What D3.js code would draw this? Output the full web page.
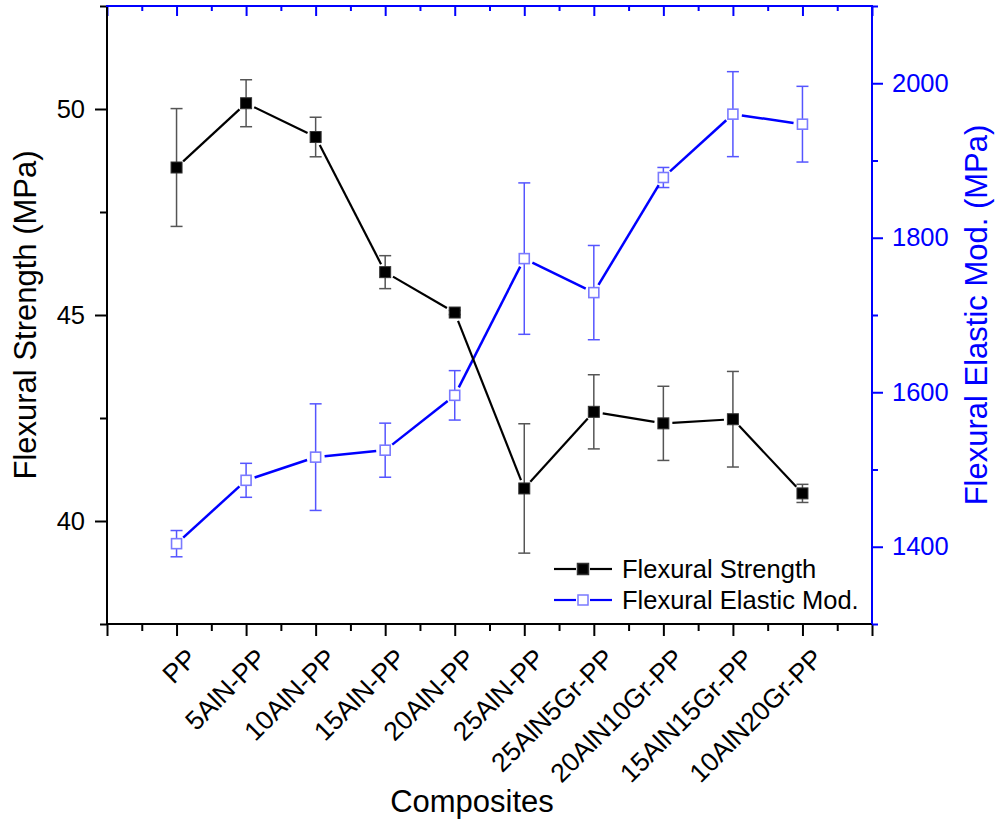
<!DOCTYPE html>
<html>
<head>
<meta charset="utf-8">
<script src="https://cdn.jsdelivr.net/npm/d3@7"></script>
<style>
  html, body { margin: 0; padding: 0; background: #fff; }
  svg { display: block; font-family: "Liberation Sans", Arial, sans-serif; }
</style>
</head>
<body>
<svg id="chart" width="999" height="823"></svg>
<script>
// ---- data ----
const categories = ["PP", "5AlN-PP", "10AlN-PP", "15AlN-PP", "20AlN-PP", "25AlN-PP",
  "25AlN5Gr-PP", "20AlN10Gr-PP", "15AlN15Gr-PP", "10AlN20Gr-PP"];
const strength = [48.58, 50.14, 49.32, 46.04, 45.06, 40.79, 42.65, 42.37, 42.47, 40.67];
const strengthErr = [1.43, 0.57, 0.48, 0.40, 0.05, 1.57, 0.90, 0.90, 1.16, 0.22];
const modulus = [1404, 1486, 1516, 1525, 1596, 1773, 1729, 1878, 1960, 1947];
const modulusErr = [17, 22, 69, 35, 32, 98, 61, 13, 55, 49];
const leftMajor = [40, 45, 50];
const leftMinor = [37.5, 42.5, 47.5, 52.5];
const rightMajor = [1400, 1600, 1800, 2000];
const rightMinor = [1300, 1500, 1700, 1900, 2100];
const seriesNames = ["Flexural Strength", "Flexural Elastic Mod."];

// ---- layout ----
const L = 107, R = 872, T = 6, B = 624;
const blue = "#0000ff";
const svg = d3.select("#chart");

const x = d3.scaleLinear().domain([0, categories.length + 1]).range([L, R]);
const yL = d3.scaleLinear().domain([37.5, 52.5]).range([B, T]);
const yR = d3.scaleLinear().domain([1300, 2100]).range([B, T]);
const xMajor = d3.range(0, categories.length + 2);
const xMinor = d3.range(0, categories.length + 1).map(d => d + 0.5);

function styleAxis(g, color) {
  g.select(".domain").remove();
  g.selectAll("line").attr("stroke", color).attr("stroke-width", 2);
  g.selectAll("text").attr("fill", color).style("font-size", "25.5px")
    .style("font-family", '"Liberation Sans", Arial, sans-serif');
}

// bottom axis
svg.append("g").attr("transform", `translate(0,${B})`)
  .call(d3.axisBottom(x).tickValues(xMajor).tickSize(12).tickFormat(""))
  .call(g => styleAxis(g, "#000"));
svg.append("g").attr("transform", `translate(0,${B})`)
  .call(d3.axisBottom(x).tickValues(xMinor).tickSize(7).tickFormat(""))
  .call(g => styleAxis(g, "#000"));
// top axis (blue, ticks inward)
svg.append("g").attr("transform", `translate(0,${T})`)
  .call(d3.axisBottom(x).tickValues(xMajor).tickSize(10).tickFormat(""))
  .call(g => styleAxis(g, blue));
svg.append("g").attr("transform", `translate(0,${T})`)
  .call(d3.axisBottom(x).tickValues(xMinor).tickSize(5).tickFormat(""))
  .call(g => styleAxis(g, blue));
// left axis
svg.append("g").attr("transform", `translate(${L},0)`)
  .call(d3.axisLeft(yL).tickValues(leftMajor).tickSize(12).tickPadding(10).tickFormat(d3.format("d")))
  .call(g => styleAxis(g, "#000"));
svg.append("g").attr("transform", `translate(${L},0)`)
  .call(d3.axisLeft(yL).tickValues(leftMinor).tickSize(7).tickFormat(""))
  .call(g => styleAxis(g, "#000"));
// right axis
svg.append("g").attr("transform", `translate(${R},0)`)
  .call(d3.axisRight(yR).tickValues(rightMajor).tickSize(11).tickPadding(9).tickFormat(d3.format("d")))
  .call(g => styleAxis(g, blue));
svg.append("g").attr("transform", `translate(${R},0)`)
  .call(d3.axisRight(yR).tickValues(rightMinor).tickSize(6).tickFormat(""))
  .call(g => styleAxis(g, blue));

// frame lines
svg.append("line").attr("x1", L).attr("x2", R).attr("y1", B).attr("y2", B).attr("stroke", "#000").attr("stroke-width", 2);
svg.append("line").attr("x1", L).attr("x2", L).attr("y1", T).attr("y2", B + 1).attr("stroke", "#000").attr("stroke-width", 2);
svg.append("line").attr("x1", L - 1).attr("x2", R + 1).attr("y1", T).attr("y2", T).attr("stroke", blue).attr("stroke-width", 2);
svg.append("line").attr("x1", R).attr("x2", R).attr("y1", T).attr("y2", B).attr("stroke", blue).attr("stroke-width", 2);

// x category labels (rotated)
svg.append("g").selectAll("text").data(categories).join("text")
  .attr("transform", (d, i) => `translate(${x(i + 1) + 22},${B + 36}) rotate(-45)`)
  .attr("text-anchor", "end")
  .style("font-size", "26.5px")
  .attr("fill", "#000")
  .text(d => d);

// axis titles
svg.append("text").attr("transform", `translate(36,${(T + B) / 2}) rotate(-90)`)
  .attr("text-anchor", "middle").style("font-size", "31px").attr("fill", "#000")
  .text("Flexural Strength (MPa)");
svg.append("text").attr("transform", `translate(987,${(T + B) / 2}) rotate(-90)`)
  .attr("text-anchor", "middle").style("font-size", "31px").attr("fill", blue)
  .text("Flexural Elastic Mod. (MPa)");
svg.append("text").attr("x", 472).attr("y", 812)
  .attr("text-anchor", "middle").style("font-size", "31px").attr("fill", "#000")
  .text("Composites");

// helper: segments shortened near markers
function segments(vals, yScale) {
  const pts = vals.map((v, i) => [x(i + 1), yScale(v)]);
  const out = [];
  for (let i = 0; i < pts.length - 1; i++) {
    const [x1, y1] = pts[i], [x2, y2] = pts[i + 1];
    const len = Math.hypot(x2 - x1, y2 - y1);
    const g = 9;
    if (len <= 2 * g) continue;
    const ux = (x2 - x1) / len, uy = (y2 - y1) / len;
    out.push([x1 + ux * g, y1 + uy * g, x2 - ux * g, y2 - uy * g]);
  }
  return out;
}

function drawSeries(vals, errs, yScale, opts) {
  const g = svg.append("g");
  const eb = g.append("g").attr("stroke", opts.errColor).attr("stroke-width", 1.5);
  vals.forEach((v, i) => {
    const cx = x(i + 1);
    const y1 = yScale(v + errs[i]), y2 = yScale(v - errs[i]);
    eb.append("line").attr("x1", cx).attr("x2", cx).attr("y1", y1).attr("y2", y2);
    eb.append("line").attr("x1", cx - 6).attr("x2", cx + 6).attr("y1", y1).attr("y2", y1);
    eb.append("line").attr("x1", cx - 6).attr("x2", cx + 6).attr("y1", y2).attr("y2", y2);
  });
  g.append("g").selectAll("line").data(segments(vals, yScale)).join("line")
    .attr("x1", d => d[0]).attr("y1", d => d[1]).attr("x2", d => d[2]).attr("y2", d => d[3])
    .attr("stroke", opts.lineColor).attr("stroke-width", opts.lineWidth);
  g.append("g").selectAll("rect").data(vals).join("rect")
    .attr("x", (d, i) => x(i + 1) - opts.size / 2)
    .attr("y", d => yScale(d) - opts.size / 2)
    .attr("width", opts.size).attr("height", opts.size)
    .attr("fill", opts.fill).attr("stroke", opts.stroke).attr("stroke-width", opts.strokeWidth);
}

drawSeries(modulus, modulusErr, yR, {
  errColor: "#5555ff", lineColor: blue, lineWidth: 2.5, size: 10,
  fill: "#fff", stroke: "#7a7aff", strokeWidth: 1.6
});
drawSeries(strength, strengthErr, yL, {
  errColor: "#555", lineColor: "#000", lineWidth: 2.2, size: 11,
  fill: "#000", stroke: "#333", strokeWidth: 1
});

// legend
const legend = svg.append("g");
const legendItems = [
  { name: seriesNames[0], y: 569, line: "#000", fill: "#000", stroke: "#333", size: 11 },
  { name: seriesNames[1], y: 600, line: blue, fill: "#fff", stroke: "#7a7aff", size: 10 }
];
legendItems.forEach(it => {
  legend.append("line").attr("x1", 554).attr("x2", 576).attr("y1", it.y).attr("y2", it.y)
    .attr("stroke", it.line).attr("stroke-width", 2.2);
  legend.append("line").attr("x1", 590).attr("x2", 612).attr("y1", it.y).attr("y2", it.y)
    .attr("stroke", it.line).attr("stroke-width", 2.2);
  legend.append("rect").attr("x", 583 - it.size / 2).attr("y", it.y - it.size / 2)
    .attr("width", it.size).attr("height", it.size)
    .attr("fill", it.fill).attr("stroke", it.stroke).attr("stroke-width", 1.5);
  legend.append("text").attr("x", 622).attr("y", it.y).attr("dominant-baseline", "central")
    .style("font-size", "25.5px").attr("fill", "#000").text(it.name);
});
</script>
</body>
</html>
